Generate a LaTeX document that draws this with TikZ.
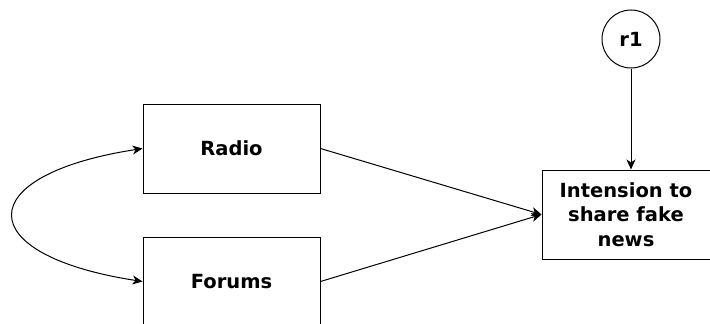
\documentclass[tikz,border=0pt]{standalone}
\usepackage{fontspec}
\setmainfont{DejaVu Sans}
\usetikzlibrary{arrows.meta}
\begin{document}
\begin{tikzpicture}[x=1pt,y=-1pt,
  box/.style={draw, line width=1pt, minimum width=177pt, minimum height=89pt, inner sep=0pt, font=\bfseries\fontsize{19.5}{24.5}\selectfont, align=center},
  latent/.style={draw, circle, line width=1pt, minimum size=58pt, inner sep=0pt, font=\bfseries\fontsize{19.5}{24}\selectfont},
  link/.style={line width=1pt, -{Stealth[length=10pt,width=9pt,inset=3pt]}},
  twoway/.style={line width=1pt, {Stealth[length=10pt,width=9pt,inset=3pt]}-{Stealth[length=10pt,width=9pt,inset=3pt]}}]
  \useasboundingbox (0,0) rectangle (710,324);
  \clip (0,0) rectangle (710,324);
  \node[box] (radio) at (231.5,148.5) {Radio};
  \node[box] (forums) at (231.5,281.5) {Forums};
  \node[box, minimum width=168pt] (intent) at (626,214.5) {Intension to\\share fake\\news};
  \node[latent] (r1) at (631,39) {r1};
  \draw[link] (r1) -- (r1 |- intent.north);
  \draw[link] (radio.east) -- (intent.west);
  \draw[link] (forums.east) -- (intent.west);
  \draw[twoway] (radio.west) .. controls (-30,175) and (-30,255) .. (forums.west);
\end{tikzpicture}
\end{document}
